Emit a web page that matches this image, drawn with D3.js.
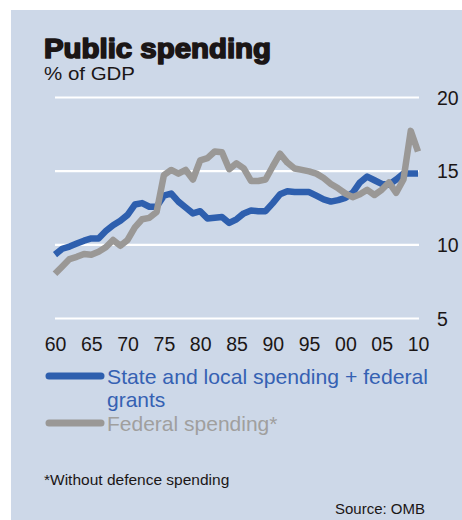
<!DOCTYPE html>
<html><head><meta charset="utf-8">
<script src="https://cdn.jsdelivr.net/npm/d3@7"></script>
<style>
html,body{margin:0;padding:0;background:#fff;}
svg{display:block;font-family:"Liberation Sans",Arial,sans-serif;}
</style></head>
<body>
<svg id="c" width="462" height="520"></svg>
<script>
const years = d3.range(1960, 2011);
const stateLocal = [9.3,9.7,9.85,10.05,10.25,10.4,10.4,10.9,11.3,11.6,
  12.0,12.7,12.8,12.55,12.55,13.3,13.45,12.9,12.5,12.1,
  12.25,11.75,11.8,11.85,11.45,11.7,12.1,12.3,12.25,12.25,
  12.8,13.4,13.6,13.55,13.55,13.55,13.3,13.05,12.9,13.0,
  13.15,13.5,14.2,14.6,14.35,14.1,14.05,14.4,14.8,14.8,14.8];
const federal = [8.0,8.5,9.0,9.15,9.35,9.3,9.5,9.8,10.3,9.9,
  10.3,11.15,11.7,11.8,12.2,14.7,15.05,14.8,15.05,14.4,
  15.7,15.85,16.3,16.25,15.1,15.5,15.15,14.3,14.3,14.4,
  15.3,16.15,15.55,15.15,15.05,14.95,14.8,14.5,14.1,13.8,
  13.45,13.2,13.4,13.7,13.35,13.7,14.2,13.5,14.4,17.7,16.3];
const yTicks = [5, 10, 15, 20];
const xTicks = [1960,1965,1970,1975,1980,1985,1990,1995,2000,2005,2010];
const seriesNames = ["State and local spending + federal", "grants", "Federal spending*"];
const colors = {blue: "#2e5fae", grey: "#9a9896", blueText: "#3561b3", greyText: "#a09f9e"};

const svg = d3.select("#c");
svg.append("rect").attr("x", 11).attr("y", 10).attr("width", 451).attr("height", 510).attr("fill", "#cdd8e8");

svg.append("text").attr("x", 44).attr("y", 58).attr("fill", "#1b1616")
  .attr("font-size", 27).attr("font-weight", "bold")
  .attr("stroke", "#1b1616").attr("stroke-width", 1.6).attr("stroke-linejoin", "round")
  .attr("textLength", 227).attr("lengthAdjust", "spacingAndGlyphs")
  .text("Public spending");
svg.append("text").attr("x", 44).attr("y", 80).attr("fill", "#1b1616")
  .attr("font-size", 18.5).attr("textLength", 91).attr("lengthAdjust", "spacingAndGlyphs")
  .text("% of GDP");

const x = d3.scaleLinear().domain([1960, 2010]).range([55, 418]);
const y = d3.scaleLinear().domain([5, 20]).range([318, 97]);

const yAxis = svg.append("g").attr("transform", "translate(419,0)")
  .call(d3.axisRight(y).tickValues(yTicks).tickSize(-364).tickPadding(18).tickFormat(d3.format("d")));
yAxis.select(".domain").remove();
yAxis.selectAll(".tick line").attr("stroke", "#fff").attr("stroke-width", 2.2);
yAxis.selectAll(".tick text").attr("font-size", 19.5).attr("fill", "#1b1616")
  .attr("font-family", "Liberation Sans, Arial, sans-serif").attr("x", 18).attr("text-anchor", "start").attr("dy", "0.36em");

const xAxis = svg.append("g").attr("transform", "translate(0,318)")
  .call(d3.axisBottom(x).tickValues(xTicks).tickSize(0).tickPadding(20)
    .tickFormat(d => String(d % 100).padStart(2, "0")));
xAxis.select(".domain").remove();
xAxis.selectAll(".tick text").attr("font-size", 19.5).attr("fill", "#1b1616")
  .attr("font-family", "Liberation Sans, Arial, sans-serif").attr("dy", "0").attr("y", 33);

const line = d3.line().x((d, i) => x(years[i])).y(d => y(d));
svg.append("path").datum(stateLocal).attr("d", line).attr("fill", "none")
  .attr("stroke", colors.blue).attr("stroke-width", 6.5).attr("stroke-linejoin", "round");
svg.append("path").datum(federal).attr("d", line).attr("fill", "none")
  .attr("stroke", colors.grey).attr("stroke-width", 6.5).attr("stroke-linejoin", "round");

const lg = svg.append("g");
lg.append("line").attr("x1", 49).attr("x2", 101).attr("y1", 376).attr("y2", 376)
  .attr("stroke", colors.blue).attr("stroke-width", 7).attr("stroke-linecap", "round");
lg.append("text").attr("x", 107).attr("y", 384).attr("font-size", 21).attr("fill", colors.blueText)
  .attr("textLength", 321).attr("lengthAdjust", "spacingAndGlyphs").text(seriesNames[0]);
lg.append("text").attr("x", 107).attr("y", 407).attr("font-size", 21).attr("fill", colors.blueText).text(seriesNames[1]);
lg.append("line").attr("x1", 49).attr("x2", 101).attr("y1", 423).attr("y2", 423)
  .attr("stroke", colors.grey).attr("stroke-width", 7).attr("stroke-linecap", "round");
lg.append("text").attr("x", 107).attr("y", 431).attr("font-size", 21).attr("fill", colors.greyText).text(seriesNames[2]);

svg.append("text").attr("x", 44).attr("y", 485).attr("font-size", 15.5).attr("fill", "#1b1616")
  .text("*Without defence spending");
svg.append("text").attr("x", 425).attr("y", 514).attr("font-size", 15).attr("fill", "#1b1616")
  .attr("text-anchor", "end").text("Source: OMB");
</script>
</body></html>
